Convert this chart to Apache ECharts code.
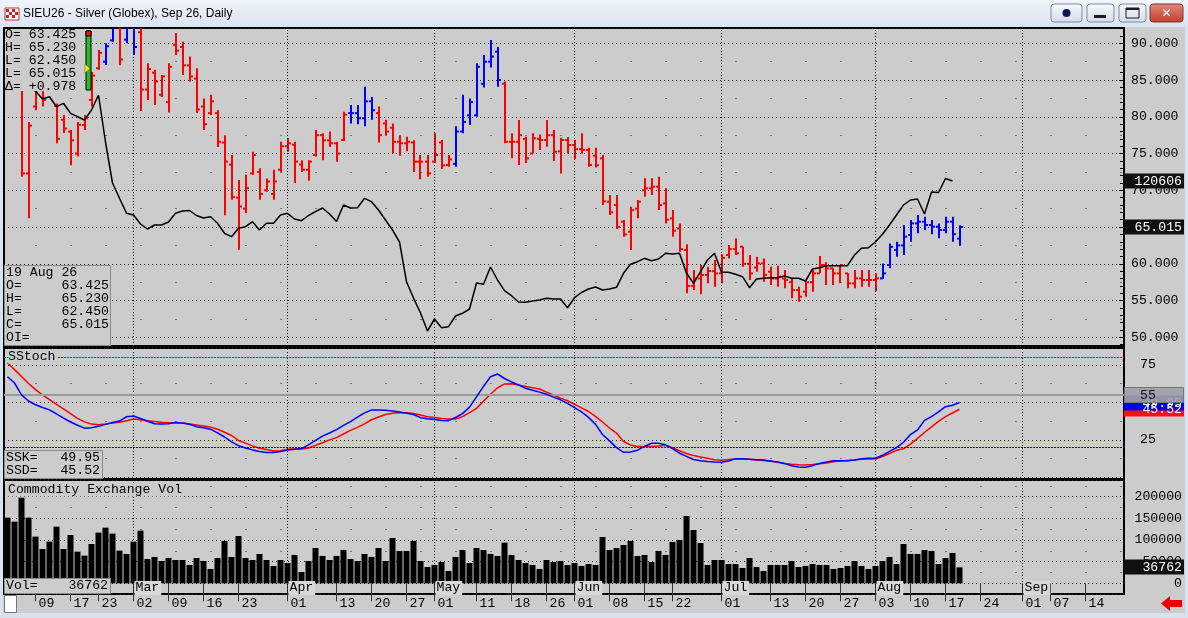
<!DOCTYPE html>
<html><head><meta charset="utf-8">
<script src="https://cdn.jsdelivr.net/npm/echarts@6/dist/echarts.min.js"></script>
<style>html,body{margin:0;padding:0;background:#dbe4f0;}#c{width:1188px;height:618px;}</style>
</head><body><div id="c"></div>
<script>
// ---------- DATA ----------
const year = 2026;
const dates = [
'02-03','02-04','02-05','02-06','02-09','02-10','02-11','02-12','02-13','02-17','02-18','02-19','02-20','02-23','02-24','02-25','02-26','02-27',
'03-02','03-03','03-04','03-05','03-06','03-09','03-10','03-11','03-12','03-13','03-16','03-17','03-18','03-19','03-20','03-23','03-24','03-25','03-26','03-27','03-30','03-31',
'04-01','04-02','04-06','04-07','04-08','04-09','04-10','04-13','04-14','04-15','04-16','04-17','04-20','04-21','04-22','04-23','04-24','04-27','04-28','04-29','04-30',
'05-01','05-04','05-05','05-06','05-07','05-08','05-11','05-12','05-13','05-14','05-15','05-18','05-19','05-20','05-21','05-22','05-26','05-27','05-28','05-29',
'06-01','06-02','06-03','06-04','06-05','06-08','06-09','06-10','06-11','06-12','06-15','06-16','06-17','06-18','06-22','06-23','06-24','06-25','06-26','06-29','06-30',
'07-01','07-02','07-06','07-07','07-08','07-09','07-10','07-13','07-14','07-15','07-16','07-17','07-20','07-21','07-22','07-23','07-24','07-27','07-28','07-29','07-30','07-31',
'08-03','08-04','08-05','08-06','08-07','08-10','08-11','08-12','08-13','08-14','08-17','08-18','08-19','08-20','08-21','08-24','08-25','08-26','08-27','08-28','08-31',
'09-01','09-02','09-03','09-04','09-07','09-08','09-09','09-10','09-11','09-14','09-15','09-16','09-17','09-18','09-21'];
const tickLabelDates = ['02-09','02-17','02-23','03-02','03-09','03-16','03-23','04-01','04-13','04-20','04-27','05-01','05-11','05-18','05-26',
'06-01','06-08','06-15','06-22','07-01','07-13','07-20','07-27','08-03','08-10','08-17','08-24','09-01','09-07','09-14'];
const monthStarts = ['03-02','04-01','05-01','06-01','07-01','08-03','09-01'];
const monthNames = ['Mar','Apr','May','Jun','Jul','Aug','Sep'];

const opens = [86.0,87.0,85.0,72.3,81.4,84.0,84.0,81.5,79.6,78.0,
75.0,78.9,82.3,86.6,87.5,90.4,94.0,90.5,93.0,91.5,
83.7,86.0,83.0,82.0,89.8,89.5,87.0,85.2,81.4,80.5,
80.5,76.5,73.5,69.0,67.5,72.3,72.5,70.0,69.5,72.8,
76.0,76.2,73.5,72.8,74.8,77.5,76.8,76.4,76.84,80.5,
80.5,79.8,82.1,80.5,79.1,78.5,76.6,76.4,76.5,73.9,
73.9,73.9,76.5,73.44,73.6,78.0,80.2,80.2,84.5,87.5,
88.86,84.5,76.6,76.6,77.0,75.0,77.0,76.84,77.5,75.3,
76.84,76.16,75.6,75.5,74.7,74.35,68.45,68.0,65.73,64.37,
67.5,70.0,70.27,70.49,68.23,66.19,64.83,61.88,57.0,58.0,
58.48,59.0,58.7,61.2,62.0,62.33,60.0,59.5,60.06,58.93,
58.0,58.0,57.5,56.43,56.21,57.5,58.7,59.84,59.38,58.7,
58.7,57.34,58.02,57.8,57.8,58.02,59.84,61.88,62.5,63.92,
65.5,65.73,65.28,65.05,64.6,65.73,63.425];
const highs = [89.0,88.5,86.5,79.3,85.0,86.0,87.5,81.8,80.25,78.2,
79.3,80.25,86.1,89.1,90.0,94.0,95.0,95.0,96.0,92.5,
87.3,86.4,85.7,87.3,91.4,90.2,88.2,86.6,82.5,83.0,
80.9,77.5,74.8,71.4,72.1,75.25,73.0,71.6,72.8,76.6,
77.1,76.6,74.1,74.1,78.2,77.75,78.0,76.6,80.7,81.6,
81.6,84.1,82.7,81.4,79.6,79.1,77.5,77.3,76.8,74.8,
74.8,77.75,76.84,74.8,78.7,83.0,82.5,87.3,88.4,90.45,
89.5,84.8,77.75,79.56,77.3,77.75,77.6,79.56,78.2,77.16,
77.25,76.84,77.75,75.8,75.8,74.8,69.36,69.36,65.96,67.77,
68.68,71.63,71.63,71.85,70.27,67.32,65.5,62.65,59.16,59.84,
59.61,60.52,61.29,62.56,63.47,62.33,61.2,60.97,60.74,59.61,
59.75,59.16,58.02,56.89,57.8,59.16,61.06,60.2,59.38,59.84,
58.7,59.16,59.16,59.16,58.7,60.06,62.78,63.01,65.28,65.96,
66.64,66.41,65.96,65.5,66.41,66.41,65.23];
const lows = [84.5,84.2,71.85,66.2,80.9,81.4,83.8,76.4,77.8,73.4,
74.6,78.2,81.4,86.4,87.05,90.2,87.0,90.0,88.4,80.8,
82.3,81.6,82.7,80.6,88.4,85.7,84.8,80.5,78.2,80.25,
75.9,66.6,68.7,61.9,66.9,72.1,68.7,69.8,68.7,72.5,
75.25,71.0,72.5,71.3,74.6,74.1,75.9,73.9,76.7,79.1,
79.0,78.7,79.6,76.5,77.5,75.0,74.7,75.3,72.5,71.5,
71.85,73.7,72.9,73.2,73.2,77.75,78.9,80.0,84.0,86.7,
84.1,76.4,74.35,73.44,73.7,75.0,75.5,75.94,74.0,72.3,
75.0,74.26,75.0,73.2,73.1,68.0,66.64,64.73,63.69,61.88,
66.19,69.13,69.36,67.32,65.5,63.69,61.65,55.98,56.43,55.85,
57.34,56.89,57.34,60.74,61.2,59.61,57.8,58.93,57.57,57.12,
56.89,56.66,55.3,54.85,55.53,56.21,58.7,57.12,57.12,57.34,
56.66,56.66,56.89,56.89,56.3,57.93,59.38,60.97,61.2,63.01,
64.15,64.6,64.01,63.47,64.15,63.01,62.45];
const closes = [87.0,85.0,72.3,78.8,84.0,82.3,86.0,77.0,78.4,76.8,
78.9,79.8,85.6,88.7,89.6,93.0,87.8,94.0,89.5,83.7,
86.5,84.8,85.5,86.8,89.0,87.0,85.5,81.0,79.0,82.1,
76.6,73.9,69.1,67.8,70.3,74.8,69.5,71.2,71.2,76.0,
76.4,73.9,72.8,73.9,77.5,76.8,76.4,75.0,80.3,80.5,
79.8,82.1,80.9,77.5,78.0,76.6,76.4,76.6,73.9,73.9,
72.3,74.8,73.4,74.2,78.0,79.3,82.0,86.8,87.5,88.2,
85.0,76.6,76.6,77.5,74.35,77.07,76.84,77.5,75.26,76.84,
76.16,75.6,75.5,73.44,73.4,68.5,67.0,65.0,64.0,67.3,
68.45,70.27,70.49,68.0,66.0,64.5,62.0,57.0,58.02,58.48,
59.02,58.7,60.8,62.0,61.42,60.0,58.7,60.06,58.5,58.0,
58.25,57.8,56.43,55.53,57.5,58.7,59.84,59.38,58.7,59.84,
57.34,58.02,57.8,57.8,58.02,58.7,62.3,62.5,63.69,65.5,
65.73,65.28,65.05,64.6,65.73,64.037,65.015];
// positions (in the arrays above) of bars painted blue
const blueBars = [14,15,17,18,49,50,51,52,64,65,66,67,68,69,70,125,126,127,128,129,130,131,132,133,134,135,136];
const openInterest = [177606,178806,178206,176406,174606,169806,171186,165186,167226,161226,
159186,157206,163206,172206,144006,119406,110226,101226,100206,94806,
91806,94206,94206,96006,101226,102606,102906,99906,98406,99186,
95226,89226,87186,92226,93186,96186,91206,95226,95226,100206,
101226,97806,96786,99906,102246,104406,100806,96306,106206,104406,
104586,110226,108186,103206,97206,91206,84006,60186,50406,41406,
30606,37806,32586,33186,39606,41226,43806,59406,58626,69006,
61206,54786,51786,48006,47826,48606,49206,50226,49806,49806,
44586,50586,53706,55806,57006,55206,55806,56826,65226,70626,
72186,74226,72786,73806,77226,76806,77226,65226,59226,66186,
73206,77226,65826,65826,64626,63186,56586,61806,62226,62586,
62586,63606,62226,62226,60606,67806,68586,69786,69786,69786,
69786,76206,80226,80586,84186,88626,94206,100206,106206,109206,
109806,100806,114006,113706,122106,120606,null];
const volumes = [151500,142300,197600,151500,107700,79200,96100,130700,79200,111500,
73000,63800,90700,116900,128400,114600,75400,67700,96100,121500,
56100,60800,51500,58400,53800,53800,42300,58400,51500,33100,
58400,97700,60800,109200,58400,53800,67700,53800,40000,53800,
46900,65400,26100,51500,81500,63100,53800,63100,76900,56100,
51500,67700,60800,81500,51500,104600,74600,74600,97700,51500,
37700,42300,49200,28500,60800,76900,46900,81500,76900,67700,
63100,93800,65400,53800,46900,42300,33100,53800,49200,51500,
42300,46900,40000,44600,42300,106900,76900,81500,88400,97700,
63100,65400,49200,74600,65400,95400,100000,155300,123000,93000,
42300,53800,53800,44600,44600,35400,58400,37700,28500,42300,
42300,42300,51500,37700,40000,44600,42300,42300,33100,35400,
40000,51500,40000,33100,40000,51500,60800,44600,90700,67700,
67700,76900,74600,44600,58400,70000,36762];
const ssk = [67.2,63.0,55.1,51.0,48.5,46.7,45.1,42.4,39.6,37.0,
34.8,32.9,33.1,34.1,35.4,36.7,37.6,40.5,41.0,39.3,
37.5,35.8,35.7,35.9,36.7,36.3,35.5,33.9,33.2,32.2,
29.8,27.0,23.7,21.2,19.7,18.4,17.4,16.6,16.7,17.4,
18.4,18.8,19.3,21.8,24.8,27.6,29.7,31.9,34.7,37.2,
40.2,43.1,45.0,45.0,44.9,44.4,43.6,42.8,42.0,39.9,
39.2,38.7,38.0,37.9,40.0,42.6,46.9,53.7,60.7,67.2,
69.0,66.0,63.7,61.7,59.5,58.2,56.9,55.5,53.6,51.8,
49.4,46.6,43.8,40.1,35.4,28.7,24.4,19.9,16.8,17.0,
18.2,20.7,22.8,22.8,21.8,19.3,16.2,14.1,12.0,11.2,
10.7,10.4,10.2,11.0,12.5,12.5,12.1,11.9,11.6,11.0,
10.4,9.4,7.8,7.0,6.9,7.9,9.3,10.3,11.1,11.2,
11.2,11.6,12.5,12.8,12.8,14.8,17.4,19.9,23.5,28.6,
31.7,38.1,40.6,43.8,47.2,48.2,49.95];
const ssd = [76.5,71.9,67.3,62.7,58.6,55.0,51.9,48.8,45.7,42.6,
39.4,37.1,35.6,35.1,35.6,36.3,36.8,37.9,39.0,38.5,
37.9,37.3,36.9,36.6,36.5,36.3,35.7,35.0,34.3,33.6,
32.2,30.2,28.0,24.7,22.9,21.1,19.5,18.7,17.7,17.8,
18.8,19.0,19.0,19.7,21.4,23.2,25.1,26.6,29.0,31.4,
33.4,35.8,38.5,40.3,42.0,42.8,43.2,43.2,42.6,41.6,
40.5,40.0,39.4,39.0,39.0,40.6,43.2,46.1,50.8,55.5,
59.8,62.4,62.5,61.6,60.7,59.8,59.0,56.9,55.0,52.9,
51.2,48.7,46.4,44.0,40.8,37.0,33.0,29.6,24.0,21.7,
20.6,20.6,20.6,21.0,21.5,19.8,17.8,16.0,14.6,13.6,
12.8,11.9,11.5,12.0,12.3,12.2,12.1,11.7,11.3,10.8,
10.1,9.3,8.8,8.5,8.3,8.6,9.1,9.7,10.5,11.0,
11.4,11.7,12.2,12.3,12.3,14.0,16.0,18.1,19.1,22.3,
26.1,30.0,33.7,37.4,40.6,43.0,45.52];
const stochUpper = 80, stochLower = 20, stochMid = 55;

// ---------- CHART ----------
const MONO = '"Liberation Mono", "DejaVu Sans Mono", monospace';
const FS = 13.2;
const FONT = FS + 'px ' + MONO;
const BG = '#cccccc';
const chart = echarts.init(document.getElementById('c'), null, {renderer: 'canvas', width: 1188, height: 618});

const labelSet = new Set(tickLabelDates);
const blueSet = new Set(blueBars);
const last = closes.length - 1;
const priceData = opens.map((o, i) => [i, o, highs[i], lows[i], closes[i], blueSet.has(i) ? 1 : 0]);

const dots = {show: true, lineStyle: {color: '#1e1e1e', type: [1, 3], width: 1}};
const sparseDots = {show: true, lineStyle: {color: '#1e1e1e', type: [1, 34], dashOffset: 3.5, width: 1}};
const isMult = (v, m) => Math.abs(v - Math.round(v / m) * m) < 1e-6;
const monthLines = monthStarts.map(d => ({xAxis: d}));
const monthLineStyle = {color: '#111', type: [1, 2], width: 1};

function xAxisFor(gi, withLabels) {
  const ax = {type: 'category', gridIndex: gi, data: dates, boundaryGap: true,
    axisLine: {show: false}, axisTick: {show: false}, axisLabel: {show: false}, splitLine: {show: false}};
  if (withLabels) {
    ax.axisLabel = {show: true, interval: (i, v) => labelSet.has(v), formatter: v => v.slice(3),
      align: 'left', padding: [0, 0, 0, 3], margin: 3, color: '#000', fontFamily: MONO, fontSize: FS};
    ax.axisTick = {show: true, interval: (i, v) => labelSet.has(v), alignWithLabel: true, length: 18,
      lineStyle: {color: '#333', width: 1}};
  }
  return ax;
}

function renderPriceBar(params, api) {
  const i = api.value(0);
  const pH = api.coord([i, api.value(2)]);
  const pL = api.coord([i, api.value(3)]);
  const pO = api.coord([i, api.value(1)]);
  const pC = api.coord([i, api.value(4)]);
  const x = Math.round(pH[0]);
  const st = {stroke: api.value(5) ? '#0000ff' : '#ff0000', lineWidth: 2};
  return {type: 'group', children: [
    {type: 'line', shape: {x1: x, y1: pH[1], x2: x, y2: pL[1]}, style: st},
    {type: 'line', shape: {x1: x - 3, y1: pO[1], x2: x, y2: pO[1]}, style: st},
    {type: 'line', shape: {x1: x, y1: pC[1], x2: x + 3, y2: pC[1]}, style: st}
  ]};
}

const gridBase = {left: 4, width: 1120, show: true, backgroundColor: BG, borderColor: '#000', borderWidth: 2};

const option = {
  animation: false,
  backgroundColor: BG,
  grid: [
    Object.assign({top: 28, height: 318}, gridBase),
    Object.assign({top: 348, height: 131}, gridBase),
    Object.assign({top: 480, height: 114}, gridBase)
  ],
  xAxis: [xAxisFor(0, false), xAxisFor(1, false), xAxisFor(2, true)],
  yAxis: [
    {type: 'value', gridIndex: 0, position: 'right', min: 48.82, max: 92.08, splitNumber: 8, minInterval: 5, maxInterval: 5,
      axisLine: {show: false}, axisTick: {show: false},
      axisLabel: {formatter: v => isMult(v, 5) ? v.toFixed(3) : '', margin: 7, align: 'left', color: '#000', fontFamily: MONO, fontSize: FS},
      splitLine: dots, minorTick: {show: false, splitNumber: 2}, minorSplitLine: sparseDots},
    {type: 'value', gridIndex: 0, position: 'left', min: 21606, max: 212406, show: false, splitLine: {show: false}},
    {type: 'value', gridIndex: 0, position: 'right', min: 48.82, max: 92.08, splitNumber: 8, minInterval: 5, maxInterval: 5,
      axisLine: {show: false}, axisLabel: {show: false}, splitLine: {show: false},
      axisTick: {show: true, inside: true, length: 5, lineStyle: {color: '#000'}},
      minorTick: {show: true, splitNumber: 5, length: 4, lineStyle: {color: '#000'}}},
    {type: 'value', gridIndex: 1, position: 'right', min: -1, max: 86.33, splitNumber: 4, minInterval: 25, maxInterval: 25,
      axisLine: {show: false}, axisTick: {show: false},
      axisLabel: {formatter: v => (isMult(v, 25) && (v === 25 || v === 75)) ? String(v) : '', margin: 16, align: 'left', color: '#000', fontFamily: MONO, fontSize: FS},
      splitLine: dots, minorTick: {show: false, splitNumber: 2}, minorSplitLine: sparseDots},
    {type: 'value', gridIndex: 2, position: 'right', min: -24690, max: 238345, splitNumber: 5, minInterval: 50000, maxInterval: 50000,
      axisLine: {show: false}, axisTick: {show: false},
      axisLabel: {formatter: v => (v >= 0 && isMult(v, 50000)) ? String(v) : '', margin: 58, align: 'right', color: '#000', fontFamily: MONO, fontSize: FS},
      splitLine: dots, minorTick: {show: false, splitNumber: 2}, minorSplitLine: sparseDots}
  ],
  series: [
    {type: 'custom', name: 'Price', xAxisIndex: 0, yAxisIndex: 0, renderItem: renderPriceBar, clip: true, silent: true, z: 3,
      encode: {x: 0, y: [1, 2, 3, 4]}, data: priceData},
    {type: 'line', name: 'OI', xAxisIndex: 0, yAxisIndex: 1, data: openInterest, symbol: 'none', silent: true, z: 4,
      lineStyle: {color: '#000', width: 1.5},
      markLine: {silent: true, symbol: ['none', 'none'], label: {show: false}, lineStyle: monthLineStyle, data: monthLines}},
    {type: 'line', name: 'SSD', xAxisIndex: 1, yAxisIndex: 3, data: ssd, symbol: 'none', silent: true, z: 4,
      lineStyle: {color: '#ff0000', width: 1.5},
      markLine: {silent: true, symbol: ['none', 'none'], label: {show: false}, lineStyle: monthLineStyle,
        data: monthLines.concat([
          {yAxis: stochUpper, lineStyle: {color: '#ff0000', type: [2, 1], width: 1}},
          {yAxis: stochLower, lineStyle: {color: '#0000ff', type: [2, 1], width: 1}},
          {yAxis: stochMid, lineStyle: {color: '#9a9a9a', type: 'solid', width: 2}}
        ])}},
    {type: 'line', name: 'SSK', xAxisIndex: 1, yAxisIndex: 3, data: ssk, symbol: 'none', silent: true, z: 5,
      lineStyle: {color: '#0000ff', width: 1.5}},
    {type: 'bar', name: 'Vol', xAxisIndex: 2, yAxisIndex: 4, data: volumes, barWidth: 6, silent: true, z: 3,
      itemStyle: {color: '#000'},
      markLine: {silent: true, symbol: ['none', 'none'], label: {show: false}, lineStyle: monthLineStyle, data: monthLines}}
  ]
};
chart.setOption(option);

// ---------- overlays (window chrome, legends, value tags) ----------
const g = [];
const Z = 100;
function rect(x, y, w, h, fill, stroke, extra) {
  g.push(Object.assign({type: 'rect', shape: {x, y, width: w, height: h, r: (extra && extra.r) || 0},
    style: {fill, stroke: stroke || null, lineWidth: 1}, z: Z, silent: true}, extra && extra.z ? {z: extra.z} : {}));
}
function text(x, y, t, opts) {
  opts = opts || {};
  g.push({type: 'text', x, y, z: opts.z || Z + 1, silent: true,
    style: Object.assign({text: t, fill: opts.fill || '#000', font: opts.font || FONT,
      align: opts.align || 'left', verticalAlign: 'middle'}, opts.style || {})});
}
// frame + title bar
rect(0, 0, 1188, 27, {type: 'linear', x: 0, y: 0, x2: 0, y2: 1, colorStops: [{offset: 0, color: '#f1f5fb'}, {offset: 1, color: '#d9e3f0'}]});
rect(0, 26, 3, 592, '#d9e3f0');
rect(1185, 26, 3, 592, '#d9e3f0');
rect(0, 613, 1188, 5, '#d9e3f0');
// icon
rect(5, 8, 14, 12, '#ffffff', '#c03030');
[[6,9],[12,9],[9,12],[6,15],[12,15],[15,12]].forEach(p => rect(p[0], p[1], 3, 3, '#d02020'));
text(23, 14, 'SIEU26 - Silver (Globex), Sep 26, Daily', {font: '12px "Liberation Sans", "Noto Sans", sans-serif'});
// window buttons
const btnGrad = {type: 'linear', x: 0, y: 0, x2: 0, y2: 1, colorStops: [{offset: 0, color: '#f7f9fc'}, {offset: 1, color: '#d3dce8'}]};
rect(1051, 4, 31, 18, btnGrad, '#7d8ca3', {r: 3});
g.push({type: 'circle', shape: {cx: 1066.5, cy: 13, r: 4}, style: {fill: '#0c1657'}, z: Z + 1, silent: true});
rect(1087, 4, 27, 18, btnGrad, '#7d8ca3', {r: 3});
rect(1094, 15, 12, 3, '#1c1c1c', null, {z: Z + 1});
rect(1119, 4, 27, 18, btnGrad, '#7d8ca3', {r: 3});
rect(1126, 8, 13, 10, 'rgba(0,0,0,0)', '#1c1c1c', {z: Z + 1});
rect(1126, 8, 13, 2, '#1c1c1c', null, {z: Z + 1});
rect(1150, 4, 33, 18, {type: 'linear', x: 0, y: 0, x2: 0, y2: 1, colorStops: [{offset: 0, color: '#e08a7d'}, {offset: 1, color: '#c23d2c'}]}, '#7a3a32', {r: 3});
text(1166.5, 13.5, '✕', {fill: '#ffffff', align: 'center', font: 'bold 12px "DejaVu Sans", sans-serif'});

// price legend (top-left)
const chg = closes[last] - closes[last - 1];
rect(5, 29, 78, 62, BG);
const f3 = v => v.toFixed(3);
[['O= ', f3(opens[last])], ['H= ', f3(highs[last])], ['L= ', f3(lows[last])], ['L= ', f3(closes[last])],
 ['\u0394= ', (chg >= 0 ? '+' : '') + chg.toFixed(3)]].forEach((r, k) => text(5, 34.5 + k * 13, r[0] + r[1]));
// range indicator
rect(86, 31, 5, 59, '#22c022', '#000');
rect(86, 31, 5, 5, '#ff1010', '#000', {z: Z + 1});
g.push({type: 'polygon', shape: {points: [[85, 64], [90, 68.5], [85, 73]]}, style: {fill: '#ffee00', stroke: '#555', lineWidth: 0.5}, z: Z + 2, silent: true});

// data box (bottom-left of price panel)
const md = dates[last].split('-');
const monAbbr = ['Jan','Feb','Mar','Apr','May','Jun','Jul','Aug','Sep','Oct','Nov','Dec'];
rect(4.5, 265.5, 106, 80, BG, '#8a8a8a');
text(6, 273, md[1] + ' ' + monAbbr[+md[0] - 1] + ' ' + String(year).slice(2));
[['O=', f3(opens[last])], ['H=', f3(highs[last])], ['L=', f3(lows[last])], ['C=', f3(closes[last])], ['OI=', '']].forEach((r, k) => {
  text(6, 286 + k * 13, r[0]);
  if (r[1]) text(109, 286 + k * 13, r[1], {align: 'right'});
});

// stoch legend
text(8, 357, 'SStoch', {style: {backgroundColor: BG, padding: [0, 2, 0, 0]}});
rect(4.5, 450.5, 98, 28, BG, '#8a8a8a');
text(6, 458, 'SSK=');
text(100, 458, ssk[last].toFixed(2), {align: 'right'});
text(6, 471, 'SSD=');
text(100, 471, ssd[last].toFixed(2), {align: 'right'});

// volume legend
text(8, 490, 'Commodity Exchange Vol', {style: {backgroundColor: BG}});
rect(4.5, 578.5, 106, 15, BG, '#8a8a8a');
text(6, 586, 'Vol=');
text(108, 586, String(volumes[last]), {align: 'right'});

// month labels in volume panel
monthStarts.forEach((d, k) => {
  const x = chart.convertToPixel({xAxisIndex: 2}, d);
  text(x + 1, 588, monthNames[k], {style: {backgroundColor: '#d8d8d8', padding: [1, 2, 0, 1]}});
});

// bottom widgets
rect(4.5, 595.5, 12, 17, '#ffffff', '#777');
g.push({type: 'polygon', shape: {points: [[1161, 603.5], [1170, 596], [1170, 600], [1182, 600], [1182, 607], [1170, 607], [1170, 611]]},
  style: {fill: '#e60000'}, z: Z, silent: true});

// right-axis value tags
function tag(y, t, bg, fg, align, tx) {
  rect(1124, Math.round(y) - 7.5, 60, 15, bg, null, {z: Z + 5});
  text(tx || 1182, Math.round(y) + 0.5, t, {fill: fg, align: align || 'right', z: Z + 6});
}
const lastOI = openInterest.filter(v => v !== null).slice(-1)[0];
tag(chart.convertToPixel({yAxisIndex: 1}, lastOI), String(lastOI), '#101010', '#ffffff');
tag(chart.convertToPixel({yAxisIndex: 0}, closes[last]), f3(closes[last]), '#101010', '#ffffff');
tag(chart.convertToPixel({yAxisIndex: 3}, ssd[last]), ssd[last].toFixed(2), '#ff1010', '#ffffff');
tag(chart.convertToPixel({yAxisIndex: 3}, ssk[last]), ssk[last].toFixed(2), '#0000ee', '#ffffff');
(function () {
  const y = chart.convertToPixel({yAxisIndex: 3}, stochMid);
  g.push({type: 'rect', shape: {x: 1124.5, y: Math.round(y) - 7.5, width: 59, height: 15},
    style: {fill: 'rgba(160,160,168,0.92)', stroke: '#777', lineWidth: 1}, z: Z + 7, silent: true});
  text(1140, Math.round(y) + 0.5, String(stochMid), {fill: '#111', z: Z + 8});
})();
tag(chart.convertToPixel({yAxisIndex: 4}, volumes[last]), String(volumes[last]), '#101010', '#ffffff');

chart.setOption({graphic: {elements: g}});
</script>
</body></html>
